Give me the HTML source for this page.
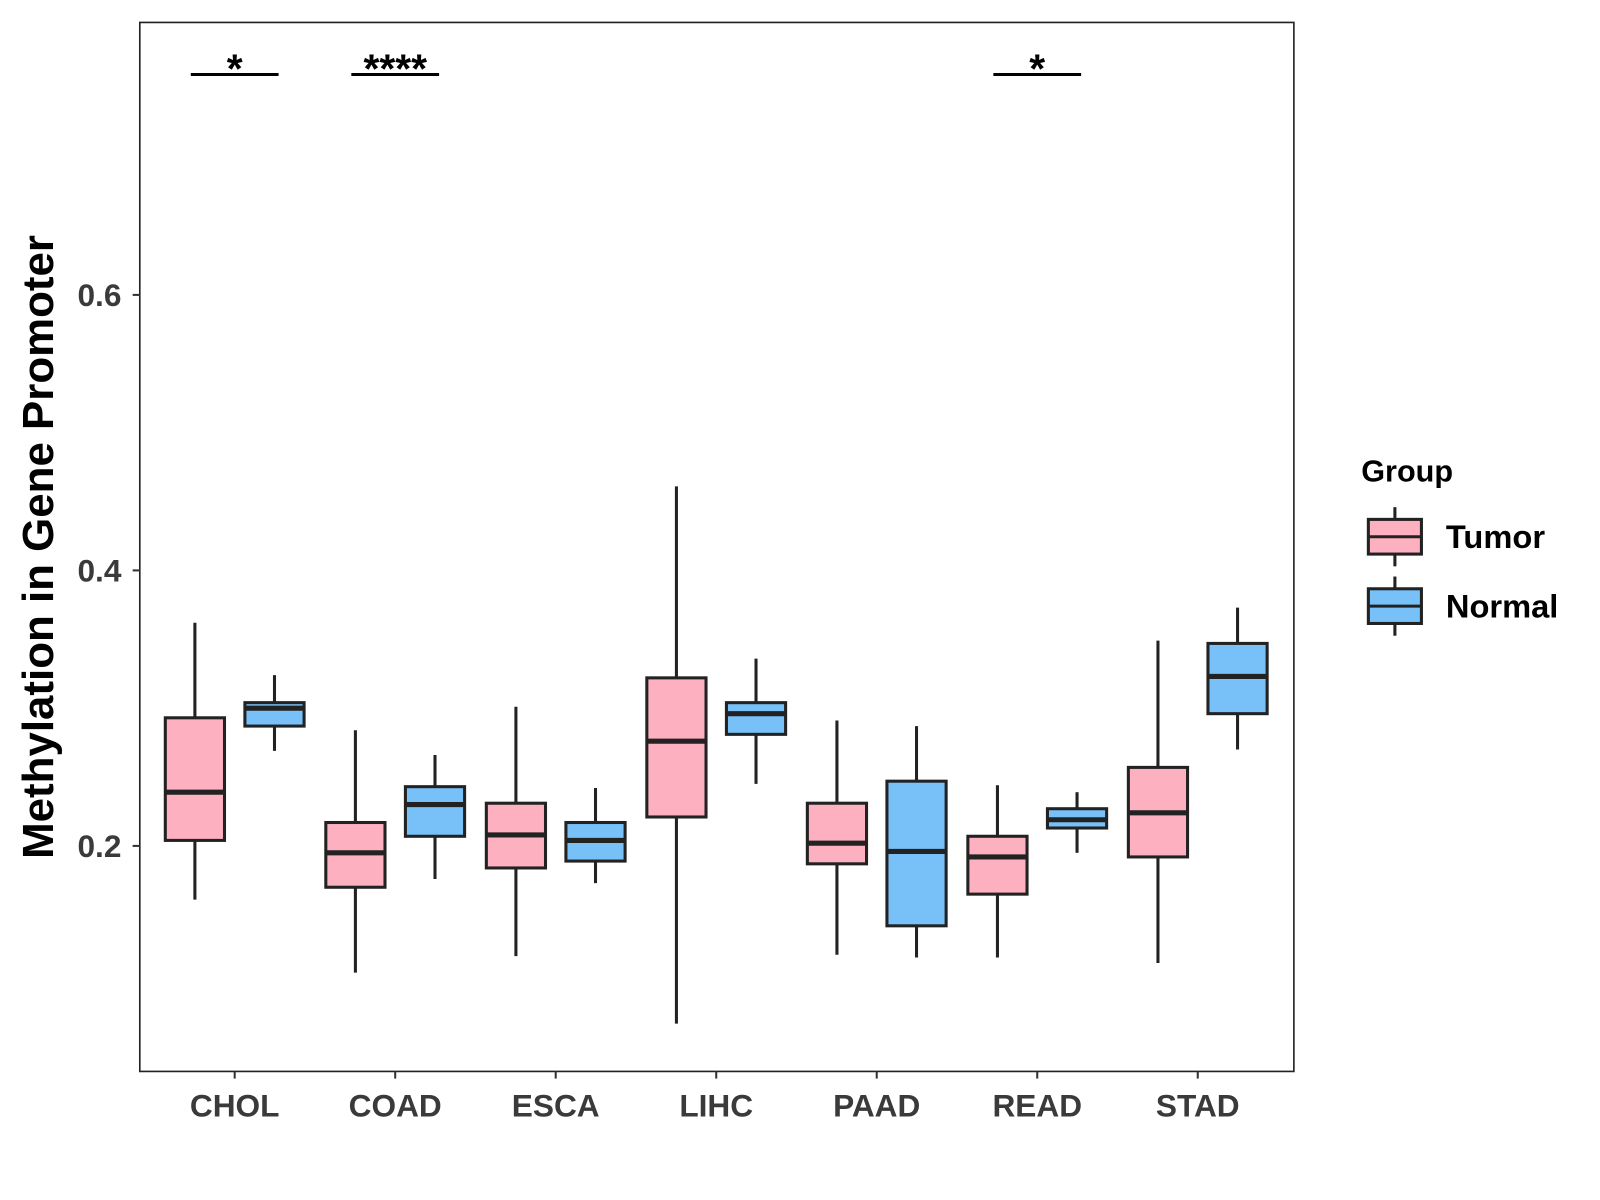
<!DOCTYPE html>
<html><head><meta charset="utf-8"><style>
html,body{margin:0;padding:0;background:#fff;}
svg{display:block;}
text{font-family:"Liberation Sans",Arial,sans-serif;font-weight:bold;}
</style></head><body>
<svg id="chart" width="1600" height="1200" viewBox="0 0 1568 1176" xmlns="http://www.w3.org/2000/svg"></svg>
<script>
const categories=["CHOL","COAD","ESCA","LIHC","PAAD","READ","STAD"];
const groups=["Tumor","Normal"];
// [lowerWhisker, Q1, median, Q3, upperWhisker]
const tumorStats=[[0.161,0.204,0.239,0.293,0.362],[0.108,0.170,0.195,0.217,0.284],[0.120,0.184,0.208,0.231,0.301],[0.071,0.221,0.276,0.322,0.461],[0.121,0.187,0.202,0.231,0.291],[0.119,0.165,0.192,0.207,0.244],[0.115,0.192,0.224,0.257,0.349]];
const normalStats=[[0.269,0.287,0.300,0.304,0.324],[0.176,0.207,0.230,0.243,0.266],[0.173,0.189,0.204,0.217,0.242],[0.245,0.281,0.296,0.304,0.336],[0.119,0.142,0.196,0.247,0.287],[0.195,0.213,0.219,0.227,0.239],[0.270,0.296,0.323,0.347,0.373]];
const yTicks=[0.2,0.4,0.6];
const yTickLabels=["0.2","0.4","0.6"];
const sigCategories=["CHOL","COAD","READ"];
const sigLabels=["*","****","*"];
const sigLevel=0.76;

const NS="http://www.w3.org/2000/svg";
const svg=document.getElementById('chart');
const L=137,R=1268,T=22,B=1050;
const yScale=v=>829-(v-0.2)*1350;
const xScale=i=>230+157.3*i;
const colors={Tumor:"#fdb0c0",Normal:"#78c1f8"};
function mk(tag,attrs,parent){const e=document.createElementNS(NS,tag);for(const k in attrs)e.setAttribute(k,attrs[k]);(parent||svg).appendChild(e);return e;}

const panel=mk('rect',{x:L,y:T,width:R-L,height:B-T,fill:'none',stroke:'#222','stroke-width':1.6});



yTicks.forEach((v,i)=>{
  const y=yScale(v);
  const t=mk('line',{x1:L-7,x2:L,y1:y,y2:y,stroke:'#333','stroke-width':2});
  
  
  const tx=mk('text',{x:L-18,y:y+11,'text-anchor':'end','font-size':31,fill:'#3a3a3a'});
  tx.textContent=yTickLabels[i];
  
  
});
categories.forEach((c,i)=>{
  const x=xScale(i);
  const t=mk('line',{x1:x,x2:x,y1:B,y2:B+7,stroke:'#333','stroke-width':2});
  
  
  const tx=mk('text',{x:x,y:B+44,'text-anchor':'middle','font-size':31,fill:'#3a3a3a'});
  tx.textContent=c;
  
  
});
const yt=mk('text',{x:0,y:0,transform:'translate(52,536) rotate(-90)','text-anchor':'middle','font-size':43,fill:'#000'});
yt.textContent="Methylation in Gene Promoter";



function drawBox(s,cx,color,name){
  const g=mk('g',{});
  
  
  const w=58;
  mk('line',{x1:cx,x2:cx,y1:yScale(s[0]),y2:yScale(s[4]),stroke:'#222','stroke-width':3},g);
  mk('rect',{x:cx-w/2,y:yScale(s[3]),width:w,height:yScale(s[1])-yScale(s[3]),fill:color,stroke:'#222','stroke-width':3},g);
  mk('line',{x1:cx-w/2,x2:cx+w/2,y1:yScale(s[2]),y2:yScale(s[2]),stroke:'#222','stroke-width':5},g);
}
categories.forEach((c,i)=>{
  drawBox(tumorStats[i],xScale(i)-39,colors.Tumor,'box-tumor-'+c.toLowerCase());
  drawBox(normalStats[i],xScale(i)+39,colors.Normal,'box-normal-'+c.toLowerCase());
});
sigCategories.forEach((c,k)=>{
  const i=categories.indexOf(c),x=xScale(i),y=yScale(sigLevel);
  const l=mk('line',{x1:x-43,x2:x+43,y1:y,y2:y,stroke:'#000','stroke-width':3});
  
  
  const t=mk('text',{x:x,y:y+8,'text-anchor':'middle','font-size':40,fill:'#000'});
  t.textContent=sigLabels[k];
  
  
});
// legend
const lt=mk('text',{x:1334,y:472,'font-size':30,fill:'#000'});
lt.textContent="Group";


groups.forEach((gname,k)=>{
  const top=497+k*68;
  const g=mk('g',{});
  
  
  mk('line',{x1:1367,x2:1367,y1:top,y2:top+58,stroke:'#222','stroke-width':3},g);
  mk('rect',{x:1341,y:top+12,width:52,height:34,fill:colors[gname],stroke:'#222','stroke-width':3},g);
  mk('line',{x1:1341,x2:1393,y1:top+29,y2:top+29,stroke:'#222','stroke-width':3},g);
  const t=mk('text',{x:1417,y:top+40,'font-size':32,fill:'#000'},g);
  t.textContent=gname;
});
</script>
</body></html>
